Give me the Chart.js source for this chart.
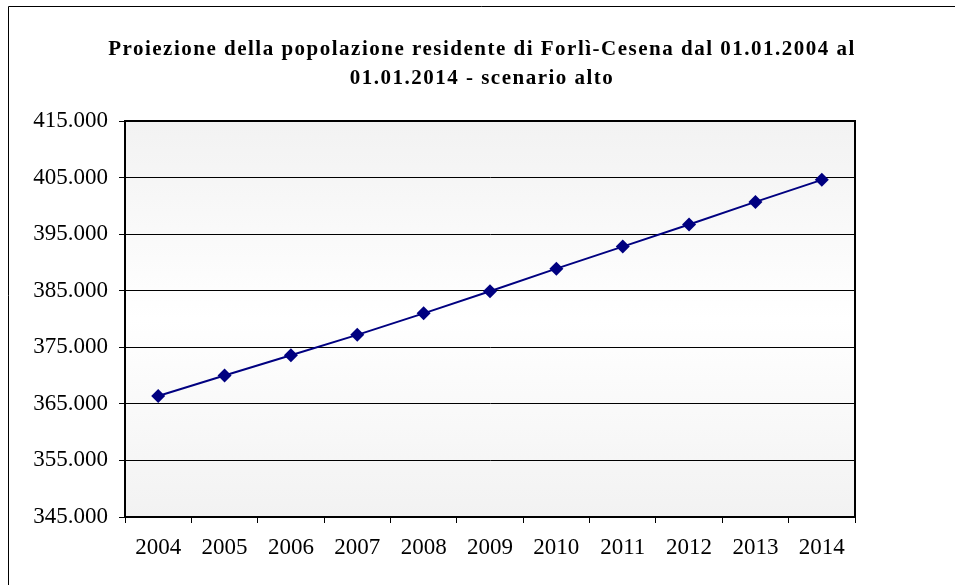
<!DOCTYPE html>
<html>
<head>
<meta charset="utf-8">
<script src="https://cdn.jsdelivr.net/npm/chart.js@4"></script>
<style>
  html, body { margin: 0; padding: 0; background: #fff; }
  #wrap { width: 955px; height: 585px; }
</style>
</head>
<body>
<div id="wrap"><canvas id="chart" width="955" height="585"></canvas></div>
<script>
// dati della proiezione (scenario alto)
const years = ['2004', '2005', '2006', '2007', '2008', '2009', '2010', '2011', '2012', '2013', '2014'];
const population = [366400, 370000, 373600, 377200, 381000, 384900, 388900, 392800, 396700, 400700, 404600];
const titleLines = [
  'Proiezione della popolazione residente di Forlì-Cesena dal 01.01.2004 al',
  '01.01.2014 - scenario alto'
];
const yMin = 345000;
const yMax = 415000;
const yStep = 10000;

// formato con punto delle migliaia
function formatThousands(v) {
  return String(Math.round(v)).replace(/\B(?=(\d{3})+(?!\d))/g, '.');
}

// sfondo area grafico, bordo e titolo
const framePlugin = {
  id: 'frame',
  beforeDraw(chart) {
    const { ctx, chartArea: a } = chart;
    ctx.save();
    const g = ctx.createLinearGradient(0, a.top, 0, a.bottom);
    g.addColorStop(0, '#f2f2f2');
    g.addColorStop(0.5, '#ffffff');
    g.addColorStop(1, '#f2f2f2');
    ctx.fillStyle = g;
    ctx.fillRect(a.left, a.top, a.right - a.left, a.bottom - a.top);
    // cornice esterna
    ctx.strokeStyle = '#000';
    ctx.lineWidth = 1;
    ctx.beginPath();
    ctx.moveTo(8.5, 585);
    ctx.lineTo(8.5, 6.5);
    ctx.lineTo(955, 6.5);
    ctx.stroke();
    // titolo
    ctx.fillStyle = '#000';
    ctx.font = 'bold 21px "Liberation Serif", "Times New Roman", serif';
    ctx.letterSpacing = '1.5px';
    ctx.textAlign = 'center';
    ctx.textBaseline = 'middle';
    titleLines.forEach((t, i) => ctx.fillText(t, 482, 50 + i * 29));
    ctx.restore();
  },
  afterDraw(chart) {
    const { ctx, chartArea: a } = chart;
    ctx.save();
    ctx.strokeStyle = '#000';
    ctx.lineWidth = 2;
    ctx.strokeRect(a.left, a.top, a.right - a.left, a.bottom - a.top);
    ctx.restore();
  }
};

new Chart(document.getElementById('chart'), {
  type: 'line',
  data: {
    labels: years,
    datasets: [{
      data: population,
      borderColor: '#000080',
      borderWidth: 2,
      backgroundColor: '#000080',
      pointStyle: 'rectRot',
      pointRadius: 7,
      pointHoverRadius: 7,
      pointBorderWidth: 0,
      tension: 0,
      clip: false
    }]
  },
  options: {
    responsive: false,
    animation: false,
    layout: { padding: { top: 121, right: 100, bottom: 0, left: 0 } },
    plugins: {
      legend: { display: false },
      title: { display: false },
      tooltip: { enabled: false }
    },
    scales: {
      x: {
        offset: true,
        grid: {
          offset: true,
          drawOnChartArea: false,
          drawTicks: true,
          tickLength: 6,
          color: '#000'
        },
        border: { color: '#000', width: 2 },
        ticks: {
          color: '#000',
          padding: 11,
          maxRotation: 0,
          font: { family: '"Liberation Serif", "Times New Roman", serif', size: 23 }
        },
        afterFit(scale) { scale.height = 68; }
      },
      y: {
        min: yMin,
        max: yMax,
        grid: {
          color: '#000',
          lineWidth: 1,
          tickLength: 6
        },
        border: { color: '#000', width: 2 },
        ticks: {
          stepSize: yStep,
          color: '#000',
          padding: 11,
          font: { family: '"Liberation Serif", "Times New Roman", serif', size: 23 },
          callback: (v) => formatThousands(v)
        },
        afterFit(scale) { scale.width = 125; }
      }
    }
  },
  plugins: [framePlugin]
});
</script>
</body>
</html>
